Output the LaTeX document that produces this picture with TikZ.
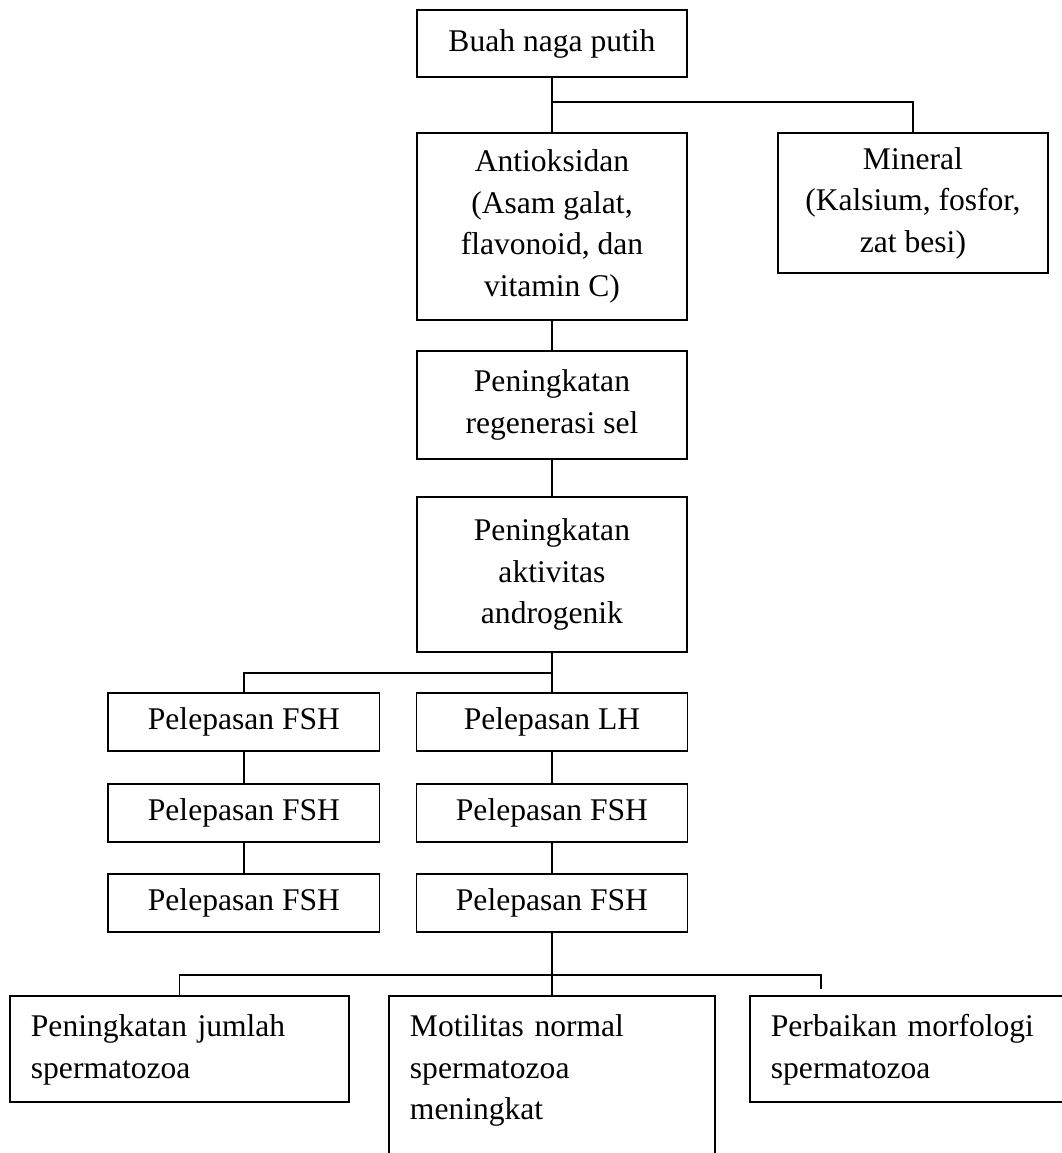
\documentclass[tikz,border=0pt]{standalone}
\usepackage{fontspec}
\setmainfont{Liberation Serif}
\usetikzlibrary{positioning}

\begin{document}
\begin{tikzpicture}[
		font=\fontsize{12}{15.8}\selectfont,
		kotak/.style={draw, line width=0.7pt, align=center, minimum width=3.606cm, inner sep=2pt, outer sep=0pt},
		lepas/.style={kotak, minimum width=3.62cm, minimum height=0.775cm},
		hasil/.style={align=left, inner xsep=0.28cm, inner ysep=7pt, outer sep=0pt},
		tepi/.style={line width=0.7pt},
		garis/.style={line width=0.5pt}
	]

	\useasboundingbox (0,0) rectangle (14.183,-15.399);

	\node[kotak, minimum height=0.895cm] (buah) at (7.372,-0.581) {Buah naga putih};
	\node[kotak, minimum height=2.497cm, below=0.748cm of buah] (antioks) {Antioksidan\\ (Asam galat,\\ flavonoid, dan\\ vitamin C)};
	\node[kotak, minimum height=1.870cm, right=1.215cm of antioks.north east, anchor=north west] (mineral) {Mineral\\ (Kalsium, fosfor,\\ zat besi)};
	\node[kotak, minimum height=1.442cm, below=0.414cm of antioks] (regen) {Peningkatan\\ regenerasi sel};
	\node[kotak, minimum height=2.070cm, below=0.508cm of regen] (andro) {Peningkatan\\ aktivitas\\ androgenik};

	\node[lepas, below=0.548cm of andro] (lh) {Pelepasan LH};
	\node[lepas, below=0.441cm of lh] (fshKanan1) {Pelepasan FSH};
	\node[lepas, below=0.427cm of fshKanan1] (fshKanan2) {Pelepasan FSH};
	\node[lepas, left=0.494cm of lh] (fshKiri1) {Pelepasan FSH};
	\node[lepas, below=0.441cm of fshKiri1] (fshKiri2) {Pelepasan FSH};
	\node[lepas, below=0.427cm of fshKiri2] (fshKiri3) {Pelepasan FSH};

	\node[hasil, text width=3.794cm, below=0.855cm of fshKanan2] (motil) {Motilitas normal\\ spermatozoa\\ meningkat};
	\node[hasil, text width=3.968cm, left=0.534cm of motil.north west, anchor=north east] (jumlah) {Peningkatan jumlah\\ spermatozoa};
	\node[hasil, text width=3.98cm, right=0.467cm of motil.north east, anchor=north west] (morfo) {Perbaikan morfologi\\ spermatozoa};
	% bingkai kotak hasil, yang tengah terbuka di bawah
	\draw[tepi] (jumlah.north west) rectangle ([yshift=-1.416cm]jumlah.north east);
	\draw[tepi] (morfo.north west) rectangle ([yshift=-1.416cm]morfo.north east);
	\draw[tepi] ([yshift=-1.5cm]motil.south west) -- (motil.north west) -- (motil.north east) -- ([yshift=-1.5cm]motil.south east);

	\coordinate (cabang1) at ([yshift=-0.334cm]buah.south);
	\coordinate (cabang2) at ([yshift=-0.28cm]andro.south);
	\coordinate (cabang3) at ([yshift=-0.574cm]fshKanan2.south);
	\coordinate (ujung) at ([xshift=0.948cm, yshift=0.093cm]morfo.north west);

	\draw[garis] (buah) -- (antioks);
	\draw[garis] (cabang1) -| (mineral);
	\draw[garis] (antioks) -- (regen);
	\draw[garis] (regen) -- (andro);
	\draw[garis] (andro) -- (lh);
	\draw[garis] (cabang2) -| (fshKiri1);
	\draw[garis] (fshKiri1) -- (fshKiri2);
	\draw[garis] (fshKiri2) -- (fshKiri3);
	\draw[garis] (lh) -- (fshKanan1);
	\draw[garis] (fshKanan1) -- (fshKanan2);
	\draw[garis] (fshKanan2) -- (motil);
	\draw[garis] (jumlah) |- (cabang3) -| (ujung);
\end{tikzpicture}
\end{document}
